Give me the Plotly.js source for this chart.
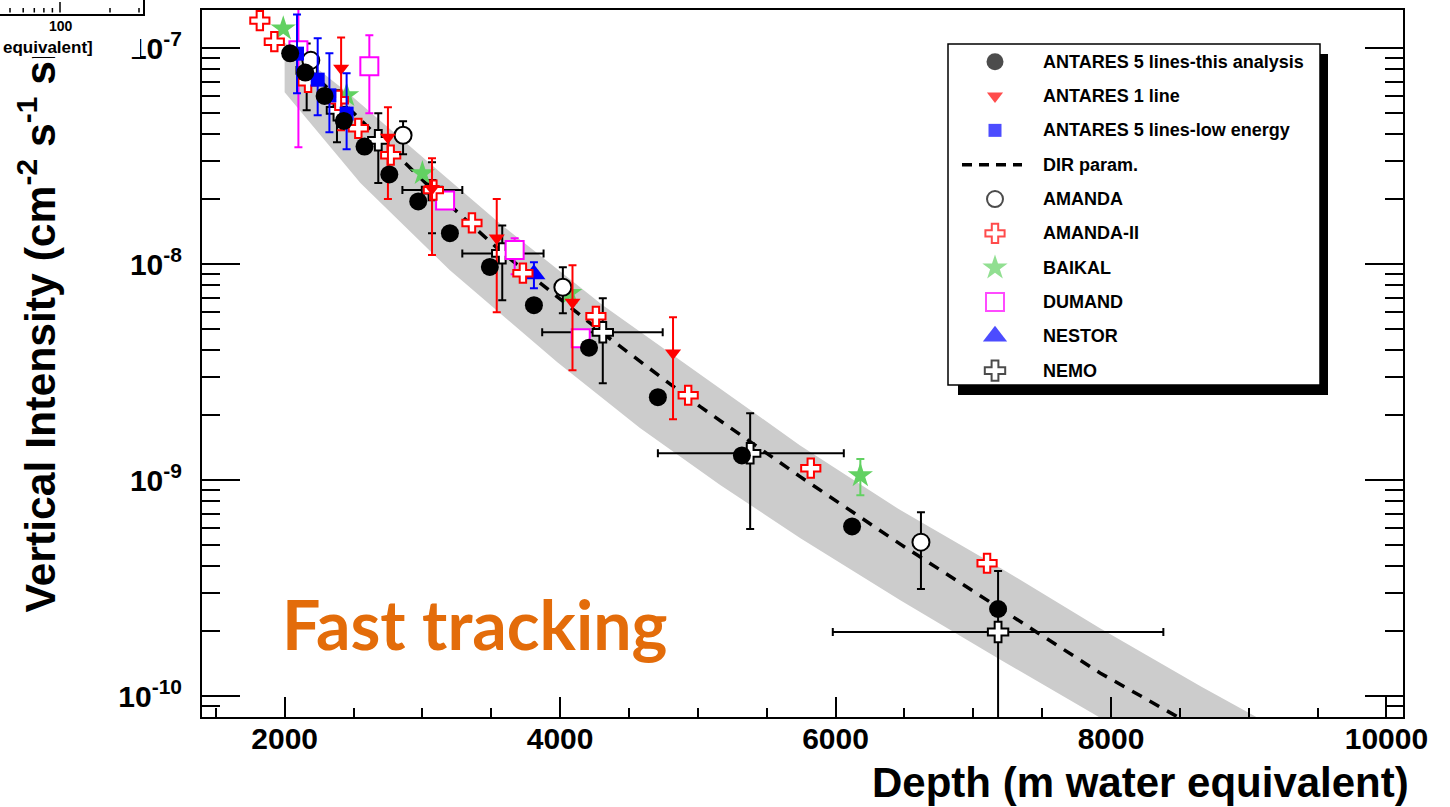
<!DOCTYPE html>
<html>
<head>
<meta charset="utf-8">
<script src="https://cdn.plot.ly/plotly-3.0.1.min.js"></script>
<style>
  html, body { margin: 0; padding: 0; background: #ffffff; }
  #chart { width: 1450px; height: 807px; }
</style>
</head>
<body>
<div id="chart"></div>
<script>
// ---------------- data (depth in m w.e., vertical intensity in cm^-2 s^-1 sr^-1) ----------------

// ANTARES 5 lines - this analysis
const antDepth = [2040, 2150, 2290, 2430, 2580, 2760, 2970, 3200, 3490, 3810, 4210, 4710, 5320, 6120, 7180];
const antFlux  = [9.45e-8, 7.7e-8, 6.0e-8, 4.6e-8, 3.5e-8, 2.6e-8, 1.95e-8, 1.39e-8, 9.7e-9, 6.45e-9, 4.1e-9, 2.42e-9, 1.30e-9, 6.1e-10, 2.53e-10];

// ANTARES 1 line
const a1Depth = [2410, 2750, 3070, 3540, 4090, 4820];
const a1Flux  = [8.06e-8, 3.86e-8, 2.24e-8, 1.32e-8, 6.65e-9, 3.87e-9];
const a1Hi    = [1.12e-7, 5.32e-8, 3.09e-8, 2.0e-8, 9.87e-9, 5.67e-9];
const a1Lo    = [4.16e-8, 2.0e-8, 1.10e-8, 5.98e-9, 3.22e-9, 1.91e-9];

// ANTARES 5 lines - low energy
const leDepth = [2090, 2240, 2325, 2450];
const leFlux  = [9.42e-8, 7.14e-8, 6.04e-8, 4.97e-8];
const leHi    = [1.43e-7, 1.11e-7, 9.45e-8, 7.64e-8];
const leLo    = [6.17e-8, 4.88e-8, 4.07e-8, 3.40e-8];

// DIR parametrisation
const dirDepth = [2040, 2480, 3070, 3580, 4310, 5020, 5740, 6470, 7200, 7920, 8500];
const dirFlux  = [9.55e-8, 5.15e-8, 2.22e-8, 1.13e-8, 4.78e-9, 2.18e-9, 1.04e-9, 5.05e-10, 2.53e-10, 1.28e-10, 7.9e-11];

// uncertainty band around the parametrisation
const bandUpDepth  = [2000, 2480, 3070, 3580, 4310, 5020, 5740, 6470, 7200, 7920, 8650, 9160];
const bandUpFlux   = [1.06e-7, 6.04e-8, 2.87e-8, 1.51e-8, 6.45e-9, 3.06e-9, 1.45e-9, 7.26e-10, 3.91e-10, 2.06e-10, 1.11e-10, 7.35e-11];
const bandLowDepth = [2000, 2550, 3200, 3980, 4580, 5165, 5745, 6470, 7200, 8000];
const bandLowFlux  = [6.24e-8, 2.37e-8, 9.36e-9, 3.51e-9, 1.74e-9, 9.47e-10, 5.38e-10, 2.78e-10, 1.47e-10, 7.42e-11];

// AMANDA
const amDepth = [2190, 2860, 4020, 6620];
const amFlux  = [8.77e-8, 3.95e-8, 7.81e-9, 5.16e-10];
const amHi    = [8.77e-8, 4.58e-8, 9.66e-9, 7.10e-10];
const amLo    = [8.77e-8, 3.22e-8, 5.92e-9, 3.13e-10];

// AMANDA-II
const am2Depth = [1820, 1925, 2170, 2390, 2535, 2770, 3080, 3360, 3730, 4260, 4930, 5820, 7100];
const am2Flux  = [1.34e-7, 1.07e-7, 6.94e-8, 5.73e-8, 4.25e-8, 3.19e-8, 2.20e-8, 1.55e-8, 9.07e-9, 5.73e-9, 2.47e-9, 1.135e-9, 4.12e-10];

// BAIKAL
const baiDepth = [1990, 2450, 3000, 4070, 6180];
const baiFlux  = [1.23e-7, 6.04e-8, 2.63e-8, 7.33e-9, 1.05e-9];
const baiHi    = [1.23e-7, 6.04e-8, 2.63e-8, 7.33e-9, 1.25e-9];
const baiLo    = [1.23e-7, 6.04e-8, 2.63e-8, 7.33e-9, 8.51e-10];

// DUMAND
const dumDepth = [2100, 2615, 3165, 3670, 4150];
const dumFlux  = [9.76e-8, 8.23e-8, 1.97e-8, 1.16e-8, 4.54e-9];
const dumHi    = [1.58e-7, 1.145e-7, 1.97e-8, 1.316e-8, 4.54e-9];
const dumLo    = [3.47e-8, 4.99e-8, 1.97e-8, 8.97e-9, 4.54e-9];

// NESTOR
const nesDepth = [3810];
const nesFlux  = [8.97e-9];
const nesHi    = [1.02e-8];
const nesLo    = [7.73e-9];

// NEMO
const nemoDepth   = [2160, 2380, 2680, 3070, 3580, 4310, 5380, 7180];
const nemoFlux    = [7.88e-8, 5.15e-8, 3.74e-8, 2.20e-8, 1.12e-8, 4.83e-9, 1.33e-9, 1.98e-10];
const nemoHi      = [1.05e-7, 6.37e-8, 4.99e-8, 2.96e-8, 1.51e-8, 6.95e-9, 2.04e-9, 3.79e-10];
const nemoLo      = [5.15e-8, 3.66e-8, 2.37e-8, 1.39e-8, 6.80e-9, 2.81e-9, 5.93e-10, 5.0e-11];
const nemoDepthLo = [2160, 2380, 2680, 2855, 3290, 3870, 4710, 5980];
const nemoDepthHi = [2160, 2380, 2680, 3290, 3880, 4745, 6060, 8380];

// axis ticks
const xTickVals = [2000, 4000, 6000, 8000, 10000];
const xTickText = ['2000', '4000', '6000', '8000', '10000'];
const yTickVals = [1e-10, 1e-9, 1e-8, 1e-7];
const yTickText = ['10<sup>-10</sup>', '10<sup>-9</sup>', '10<sup>-8</sup>', '10<sup>-7</sup>'];

// legend entries
const legendNames = ['ANTARES 5 lines-this analysis', 'ANTARES 1 line', 'ANTARES 5 lines-low energy',
  'DIR param.', 'AMANDA', 'AMANDA-II', 'BAIKAL', 'DUMAND', 'NESTOR', 'NEMO'];

// ---------------- layout geometry ----------------
const W = 1450, H = 807;
const PL = 202, PR = 1403, PT = 10, PB = 717;
const paperX = px => (px - PL) / (PR - PL);
const paperY = py => (PB - py) / (PB - PT);

const FONT = 'Liberation Sans, Arial, Helvetica, sans-serif';
const RED = '#ff0000', BLUE = '#0000ff', MAGENTA = '#ff00ff', GREEN = '#62d162';

const plus  = (v, hi) => v.map((x, i) => hi[i] - x);
const minus = (v, lo) => v.map((x, i) => x - lo[i]);
const yErr = (v, hi, lo, color) => ({
  type: 'data', symmetric: false, array: plus(v, hi), arrayminus: minus(v, lo),
  color: color, thickness: 2, width: 4
});

// ---------------- traces ----------------
const traces = [];

traces.push({
  x: bandUpDepth.concat(bandLowDepth.slice().reverse()),
  y: bandUpFlux.concat(bandLowFlux.slice().reverse()),
  mode: 'lines', fill: 'toself', fillcolor: '#cccccc',
  line: { width: 0, color: '#cccccc' }, hoverinfo: 'skip'
});

traces.push({
  x: dirDepth, y: dirFlux, mode: 'lines',
  line: { color: '#000000', width: 3.5, dash: '11px,9px' }
});

traces.push({
  x: nemoDepth, y: nemoFlux, mode: 'markers',
  marker: { symbol: 'cross', size: 17, color: '#ffffff', line: { color: '#000000', width: 2 } },
  error_y: yErr(nemoFlux, nemoHi, nemoLo, '#000000'),
  error_x: { type: 'data', symmetric: false, array: plus(nemoDepth, nemoDepthHi),
             arrayminus: minus(nemoDepth, nemoDepthLo), color: '#000000', thickness: 2, width: 4 }
});

traces.push({
  x: nesDepth, y: nesFlux, mode: 'markers',
  marker: { symbol: 'triangle-up', size: 20, color: BLUE },
  error_y: yErr(nesFlux, nesHi, nesLo, BLUE)
});

traces.push({
  x: dumDepth, y: dumFlux, mode: 'markers',
  marker: { symbol: 'square', size: 18, color: '#ffffff', line: { color: MAGENTA, width: 2 } },
  error_y: yErr(dumFlux, dumHi, dumLo, MAGENTA)
});

traces.push({
  x: baiDepth, y: baiFlux, mode: 'markers',
  marker: { symbol: 'star', size: 19, color: GREEN, line: { width: 0 } },
  error_y: yErr(baiFlux, baiHi, baiLo, GREEN)
});

traces.push({
  x: am2Depth, y: am2Flux, mode: 'markers',
  marker: { symbol: 'cross', size: 16, color: '#ffffff', line: { color: RED, width: 2 } }
});

traces.push({
  x: amDepth, y: amFlux, mode: 'markers',
  marker: { symbol: 'circle', size: 17, color: '#ffffff', line: { color: '#000000', width: 2 } },
  error_y: yErr(amFlux, amHi, amLo, '#000000')
});

traces.push({
  x: a1Depth, y: a1Flux, mode: 'markers',
  marker: { symbol: 'triangle-down', size: 14, color: RED },
  error_y: yErr(a1Flux, a1Hi, a1Lo, RED)
});

traces.push({
  x: leDepth, y: leFlux, mode: 'markers',
  marker: { symbol: 'square', size: 14, color: BLUE },
  error_y: yErr(leFlux, leHi, leLo, BLUE)
});

traces.push({
  x: antDepth, y: antFlux, mode: 'markers',
  marker: { symbol: 'circle', size: 18, color: '#000000' }
});

// ---------------- legend (drawn on a pixel-unit overlay axis pair) ----------------
const LEG_TOP = 61.7, LEG_STEP = 34.33, LEG_SYM_X = 995, LEG_TXT_X = 1041;
const rowY = i => LEG_TOP + i * LEG_STEP;
const legSymbol = ['circle', 'triangle-down', 'square', null, 'circle', 'cross', 'star', 'square', 'triangle-up', 'cross'];
const legFill   = ['#000000', RED, BLUE, null, '#ffffff', '#ffffff', GREEN, '#ffffff', BLUE, '#ffffff'];
const legEdge   = ['#000000', RED, BLUE, null, '#000000', RED, GREEN, MAGENTA, BLUE, '#000000'];
const legEdgeW  = [0, 0, 0, null, 2, 2, 0, 2, 0, 2];
const legSize   = [17, 14, 13, null, 16, 16, 19, 18, 21, 17];

const legIdx = legSymbol.map((s, i) => i).filter(i => legSymbol[i] !== null);
traces.push({
  x: [LEG_SYM_X - 33, LEG_SYM_X + 27], y: [rowY(3), rowY(3)],
  xaxis: 'x2', yaxis: 'y2', mode: 'lines', hoverinfo: 'skip', cliponaxis: false,
  line: { color: '#000000', width: 3.5, dash: '10px,7px' }
});
traces.push({
  x: legIdx.map(() => LEG_SYM_X), y: legIdx.map(i => rowY(i)),
  xaxis: 'x2', yaxis: 'y2', mode: 'markers', hoverinfo: 'skip', cliponaxis: false,
  marker: {
    symbol: legIdx.map(i => legSymbol[i]), color: legIdx.map(i => legFill[i]),
    size: legIdx.map(i => legSize[i]),
    line: { color: legIdx.map(i => legEdge[i]), width: legIdx.map(i => legEdgeW[i]) }
  }
});

// ---------------- ticks ----------------
const minorY = [];
for (let e = -11; e <= -7; e++) {
  for (let m = 2; m <= 9; m++) {
    const v = m * Math.pow(10, e);
    if (v > 8e-11 && v < 1.5e-7) minorY.push(v);
  }
}
const minorX = [];
for (let v = 1500; v <= 10000; v += 500) if (v % 2000 !== 0) minorX.push(v);

// ---------------- annotations ----------------
const annotations = [];

annotations.push({
  text: 'Vertical Intensity (cm<sup>-2</sup> s<sup>-1</sup> sr<sup>-1</sup>)',
  textangle: -90, xref: 'paper', yref: 'paper',
  x: paperX(37), y: paperY(615), xanchor: 'center', yanchor: 'bottom', showarrow: false,
  font: { family: FONT, size: 42.7, weight: 'bold', color: '#000000' }
});

annotations.push({
  text: 'Depth (m water equivalent)', xref: 'paper', yref: 'paper',
  x: paperX(1411), y: paperY(783), xanchor: 'right', yanchor: 'middle', showarrow: false,
  font: { family: FONT, size: 42, weight: 'bold', color: '#000000' }
});

annotations.push({
  text: 'Fast tracking', xref: 'paper', yref: 'paper',
  x: paperX(280), y: paperY(623), xanchor: 'left', yanchor: 'middle', showarrow: false,
  font: { family: 'Lato, Open Sans, sans-serif', size: 68, weight: 'bold', color: '#e36c0a' }
});

legendNames.forEach((name, i) => {
  annotations.push({
    text: name, xref: 'paper', yref: 'paper',
    x: paperX(LEG_TXT_X), y: paperY(rowY(i)), xanchor: 'left', yanchor: 'middle', showarrow: false,
    font: { family: FONT, size: 18, weight: 'bold', color: '#000000' }
  });
});

// corner of a neighbouring panel in the upper-left
annotations.push({
  text: ' ', xref: 'paper', yref: 'paper', x: paperX(0), y: paperY(0),
  xanchor: 'left', yanchor: 'top', width: 140, height: 57, bgcolor: '#ffffff',
  borderpad: 0, borderwidth: 0, showarrow: false
});
annotations.push({
  text: ' ', xref: 'paper', yref: 'paper', x: paperX(145), y: paperY(16),
  xanchor: 'right', yanchor: 'bottom', width: 220, height: 60, bgcolor: '#ffffff',
  bordercolor: '#000000', borderwidth: 2, borderpad: 0, showarrow: false
});
const insetTicks = [10, 23.2, 34.3, 43.9, 52.4, 60, 110, 139];
insetTicks.forEach(t => {
  const len = (t === 60) ? 12 : 6;
  annotations.push({
    text: '', xref: 'paper', yref: 'paper', x: paperX(t), y: paperY(14 - len),
    showarrow: true, arrowhead: 0, arrowwidth: 1.5, arrowcolor: '#000000',
    ax: 0, ay: len, standoff: 0, startstandoff: 0
  });
});
annotations.push({
  text: '100', xref: 'paper', yref: 'paper', x: paperX(61), y: paperY(26),
  xanchor: 'center', yanchor: 'middle', showarrow: false,
  font: { family: FONT, size: 14, weight: 'bold', color: '#000000' }
});
annotations.push({
  text: 'equivalent]', xref: 'paper', yref: 'paper', x: paperX(1), y: paperY(48),
  xanchor: 'left', yanchor: 'middle', showarrow: false,
  font: { family: FONT, size: 17, weight: 'bold', color: '#000000' }
});

// ---------------- shapes (legend frame with drop shadow) ----------------
const shapes = [
  { type: 'rect', xref: 'paper', yref: 'paper', layer: 'below',
    x0: paperX(958), x1: paperX(1328), y0: paperY(54), y1: paperY(395),
    fillcolor: '#000000', line: { width: 0 } },
  { type: 'rect', xref: 'paper', yref: 'paper', layer: 'below',
    x0: paperX(948), x1: paperX(1320), y0: paperY(44), y1: paperY(385),
    fillcolor: '#ffffff', line: { color: '#000000', width: 1.5 } }
];

// ---------------- layout ----------------
const layout = {
  width: W, height: H, autosize: false,
  margin: { l: PL, r: W - PR, t: PT, b: H - PB, pad: 0 },
  paper_bgcolor: '#ffffff', plot_bgcolor: '#ffffff',
  showlegend: false,
  xaxis: {
    range: [1400, 10120], tickmode: 'array', tickvals: xTickVals, ticktext: xTickText,
    ticks: 'inside', ticklen: 20, tickwidth: 2, tickcolor: '#000000',
    minor: { tickmode: 'array', tickvals: minorX, ticks: 'inside', ticklen: 9, tickwidth: 2, tickcolor: '#000000', showgrid: false },
    showline: true, linecolor: '#000000', linewidth: 2, mirror: true,
    showgrid: false, zeroline: false, ticklabelstandoff: -6,
    tickfont: { family: FONT, size: 30, weight: 'bold', color: '#000000' }
  },
  yaxis: {
    type: 'log', range: [Math.log10(8e-11), Math.log10(1.5e-7)],
    tickmode: 'array', tickvals: yTickVals, ticktext: yTickText,
    ticks: 'inside', ticklen: 38, tickwidth: 2, tickcolor: '#000000',
    minor: { tickmode: 'array', tickvals: minorY, ticks: 'inside', ticklen: 18, tickwidth: 2, tickcolor: '#000000', showgrid: false },
    showline: true, linecolor: '#000000', linewidth: 2, mirror: 'ticks',
    showgrid: false, zeroline: false, ticklabelstandoff: 12,
    tickfont: { family: FONT, size: 30, weight: 'bold', color: '#000000' }
  },
  xaxis2: { overlaying: 'x', range: [PL, PR], visible: false, fixedrange: true },
  yaxis2: { overlaying: 'y', range: [PB, PT], visible: false, fixedrange: true },
  shapes: shapes,
  annotations: annotations
};

Plotly.newPlot('chart', traces, layout, { staticPlot: true, displayModeBar: false });
</script>
</body>
</html>
